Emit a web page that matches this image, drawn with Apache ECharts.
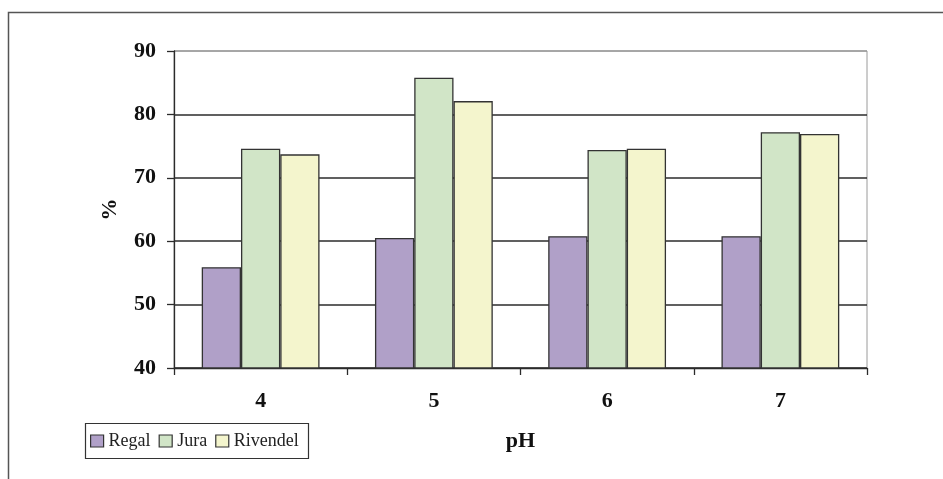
<!DOCTYPE html>
<html>
<head>
<meta charset="utf-8">
<script src="https://cdn.jsdelivr.net/npm/echarts@6/dist/echarts.min.js"></script>
<style>
  html, body { margin: 0; padding: 0; background: #fff; }
  #chart { width: 943px; height: 479px; }
</style>
</head>
<body>
<div id="chart"></div>
<script>
// pH categories and percentages per variety
const categories = ['4', '5', '6', '7'];
const regal = [55.9, 60.5, 60.8, 60.8];
const jura = [74.6, 85.8, 74.4, 77.2];
const rivendel = [73.7, 82.1, 74.6, 76.9];
const yTicks = { min: 40, max: 90, interval: 10 };

const FONT = '"Liberation Serif", "Times New Roman", serif';
const INK = '#2b2b2b';

const chart = echarts.init(document.getElementById('chart'), null, { renderer: 'canvas' });

function barSeries(name, data, color) {
  return {
    name: name,
    type: 'bar',
    data: data,
    barGap: '0%',
    barCategoryGap: '32%',
    itemStyle: { color: color, borderColor: '#333', borderWidth: 1.3 },
    emphasis: { disabled: true }
  };
}

const swatchStyle = { borderColor: '#333', borderWidth: 1.2 };

chart.setOption({
  animation: false,
  backgroundColor: '#fff',
  grid: {
    left: 174, right: 76, top: 51, bottom: 111,
    show: true, borderColor: '#9a9a9a', borderWidth: 1, backgroundColor: 'transparent'
  },
  legend: {
    left: 90, top: 432,
    padding: 0,
    itemGap: 8,
    itemWidth: 13, itemHeight: 12,
    icon: 'rect',
    textStyle: { fontFamily: FONT, fontSize: 18, color: '#222', lineHeight: 18 },
    data: [
      { name: 'Regal', itemStyle: swatchStyle },
      { name: 'Jura', itemStyle: swatchStyle },
      { name: 'Rivendel', itemStyle: swatchStyle }
    ]
  },
  xAxis: {
    type: 'category',
    data: categories,
    name: 'pH',
    nameLocation: 'middle',
    nameGap: 62,
    nameTextStyle: { fontFamily: FONT, fontSize: 22, fontWeight: 'bold', color: '#111' },
    axisLine: { lineStyle: { color: INK, width: 1.3 } },
    axisTick: { show: true, length: 7, interval: 0, lineStyle: { color: INK, width: 1.3 } },
    axisLabel: { fontFamily: FONT, fontSize: 22, fontWeight: 'bold', color: '#111', margin: 22 }
  },
  yAxis: {
    type: 'value',
    min: yTicks.min, max: yTicks.max, interval: yTicks.interval,
    name: '%',
    nameLocation: 'middle',
    nameGap: 53,
    nameTextStyle: { fontFamily: FONT, fontSize: 22, fontWeight: 'bold', color: '#111' },
    axisLine: { show: true, lineStyle: { color: INK, width: 1.3 } },
    axisTick: { show: true, length: 7, lineStyle: { color: INK, width: 1.3 } },
    axisLabel: { fontFamily: FONT, fontSize: 22, fontWeight: 'bold', color: '#111', margin: 18 },
    splitLine: {
      show: true,
      lineStyle: { color: [INK, INK, INK, INK, INK, '#9a9a9a'], width: 1.5 }
    }
  },
  series: [
    barSeries('Regal', regal, '#b0a0c8'),
    barSeries('Jura', jura, '#d1e5c7'),
    barSeries('Rivendel', rivendel, '#f4f5cd')
  ],
  graphic: [
    // outer frame (top and left edges)
    {
      type: 'polyline',
      shape: { points: [[8.5, 479], [8.5, 12.5], [943, 12.5]] },
      style: { stroke: '#555', lineWidth: 1.5, fill: null },
      silent: true
    },
    // legend box
    {
      type: 'rect',
      shape: { x: 85.5, y: 423.5, width: 223, height: 35 },
      style: { stroke: '#333', lineWidth: 1.2, fill: null },
      silent: true
    }
  ]
});
</script>
</body>
</html>
